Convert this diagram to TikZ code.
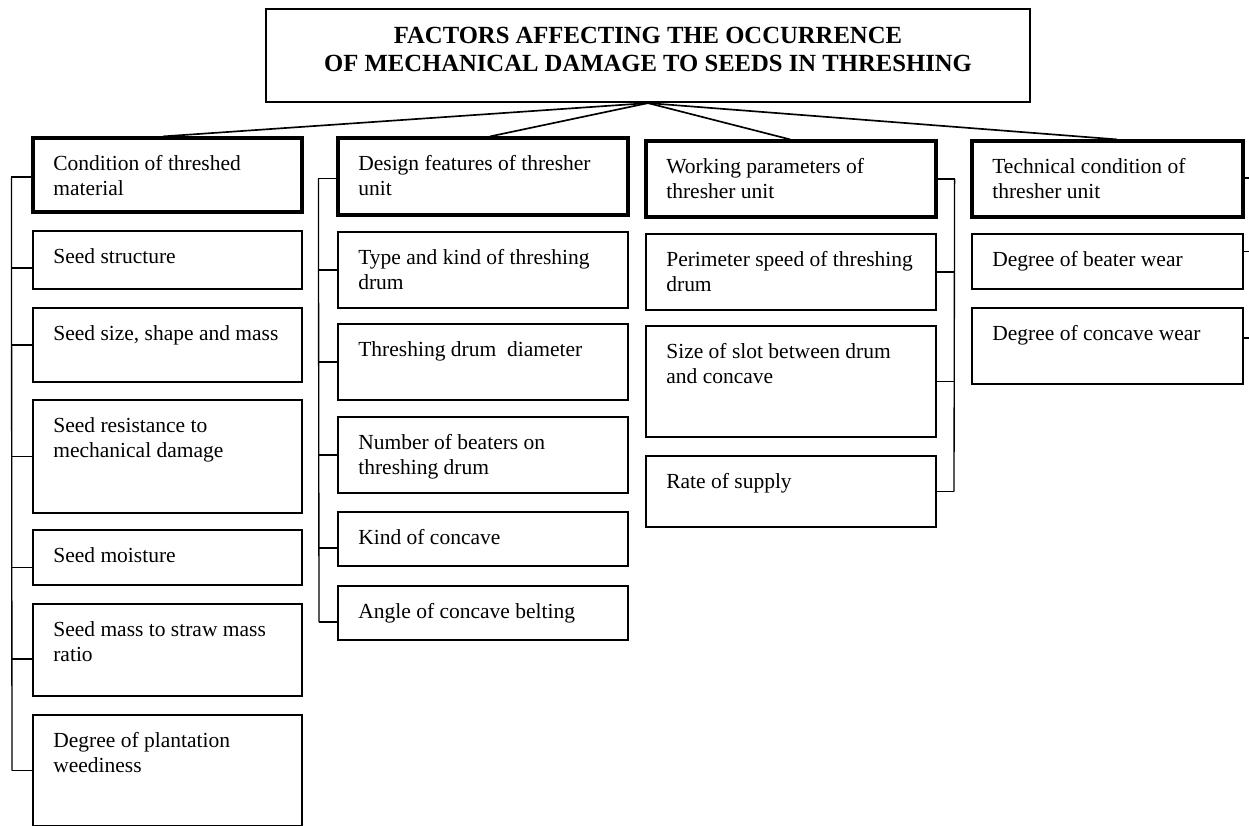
\documentclass[tikz,border=0pt]{standalone}
\usepackage{fontspec}
\setmainfont{Liberation Serif}
\usetikzlibrary{fit,calc}
\tikzset{
 boxbase/.style={draw, inner sep=0pt, line width=1.2pt},
 headbox/.style={boxbase, line width=1.9pt},
 titlebox/.style={boxbase, line width=1.3pt},
 txt/.style={anchor=north west, inner sep=0pt, align=left, font=\fontsize{12.9}{15}\selectfont},
 br/.style={line width=0.8pt},
 link/.style={line width=1pt},
}
\newcommand\mkbox[7]{%
 \node[#6, fit={(#2,#3)(#4,#5)}] (#1) {};
 \node[txt] (#1t) at (#2+20,#3+14.5) {\strut #7};
}
\begin{document}
\begin{tikzpicture}[x=0.6pt,y=-0.6pt]
\useasboundingbox (0,0) rectangle (1249,825);
% title
\node[titlebox, fit={(266,9)(1030,102)}] (title) {};
\node[font=\bfseries\fontsize{14.8}{16.8}\selectfont, align=center, anchor=north, inner sep=0pt] (titletext) at (648,23.4)
 {\strut FACTORS AFFECTING THE OCCURRENCE\\OF MECHANICAL DAMAGE TO SEEDS IN THRESHING};
% column 1
\mkbox{h1}{33}{138}{302}{212}{headbox}{Condition of threshed\\material}
\mkbox{a1}{33}{231}{302}{289}{boxbase}{Seed structure}
\mkbox{a2}{33}{308}{302}{382}{boxbase}{Seed size, shape and mass}
\mkbox{a3}{33}{400}{302}{513}{boxbase}{Seed resistance to\\mechanical damage}
\mkbox{a4}{33}{530}{302}{585}{boxbase}{Seed moisture}
\mkbox{a5}{33}{604}{302}{696}{boxbase}{Seed mass to straw mass\\ratio}
\mkbox{a6}{33}{715}{302}{826}{boxbase}{Degree of plantation\\weediness}
% column 2
\mkbox{h2}{338}{138}{628}{215}{headbox}{Design features of thresher\\unit}
\mkbox{b1}{338}{232}{628}{308}{boxbase}{Type and kind of threshing\\drum}
\mkbox{b2}{338}{324}{628}{400}{boxbase}{Threshing drum\ \ diameter}
\mkbox{b3}{338}{417}{628}{493}{boxbase}{Number of beaters on\\threshing drum}
\mkbox{b4}{338}{512}{628}{566}{boxbase}{Kind of concave}
\mkbox{b5}{338}{586}{628}{640}{boxbase}{Angle of concave belting}
% column 3
\mkbox{h3}{646}{141}{936}{217}{headbox}{Working parameters of\\thresher unit}
\mkbox{c1}{646}{234}{936}{310}{boxbase}{Perimeter speed of threshing\\drum}
\mkbox{c2}{646}{326}{936}{437}{boxbase}{Size of slot between drum\\and concave}
\mkbox{c3}{646}{456}{936}{527}{boxbase}{Rate of supply}
% column 4
\mkbox{h4}{972}{141}{1243}{217}{headbox}{Technical condition of\\thresher unit}
\mkbox{d1}{972}{234}{1243}{289}{boxbase}{Degree of beater wear}
\mkbox{d2}{972}{308}{1243}{384}{boxbase}{Degree of concave wear}
% connectors from title
\draw[link] (title.south) -- ($(h1.north west)!0.483!(h1.north east)$);
\draw[link] (title.south) -- ($(h2.north west)!0.524!(h2.north east)$);
\draw[link] (title.south) -- ($(h3.north west)!0.497!(h3.north east)$);
\draw[link] (title.south) -- ($(h4.north west)!0.535!(h4.north east)$);
% bracket column 1
\draw[br] ([yshift=-1.2pt]h1.west) -- ++(-20,0) coordinate (v1);
\draw[br] ([yshift=-4.8pt]a1.west) -- ++(-20,0);
\draw[br] (a2.west) -- ++(-20,0);
\draw[br] (a3.west) -- ++(-20,0);
\draw[br] ([yshift=-6pt]a4.west) -- ++(-20,0);
\draw[br] ([yshift=-5.4pt]a5.west) -- ++(-20,0);
\draw[br] (a6.west) -- ++(-20,0) coordinate (v1end);
\draw[br] (v1) -- (v1end);
% bracket column 2
\draw[br] ([yshift=-1.2pt]h2.west) -- ++(-18,0) coordinate (v2);
\draw[br] (b1.west) -- ++(-18,0);
\draw[br] (b2.west) -- ++(-18,0);
\draw[br] (b3.west) -- ++(-18,0);
\draw[br] ([yshift=-5.4pt]b4.west) -- ++(-18,0);
\draw[br] ([yshift=-5.4pt]b5.west) -- ++(-18,0) coordinate (v2end);
\draw[br] (v2) -- (v2end);
% bracket column 3
\draw[br] (h3.east) -- ++(17,0) coordinate (v3);
\draw[br] (c1.east) -- ++(17,0);
\draw[br] (c2.east) -- ++(17,0);
\draw[br] (c3.east) -- ++(17,0) coordinate (v3end);
\draw[br] (v3) -- (v3end);
% ticks column 4
\draw[br] ([yshift=0.6pt]h4.east) -- ++(12,0);
\draw[br] ([yshift=6pt]d1.east) -- ++(12,0);
\draw[br] ([yshift=4.8pt]d2.east) -- ++(12,0);
\end{tikzpicture}
\end{document}
